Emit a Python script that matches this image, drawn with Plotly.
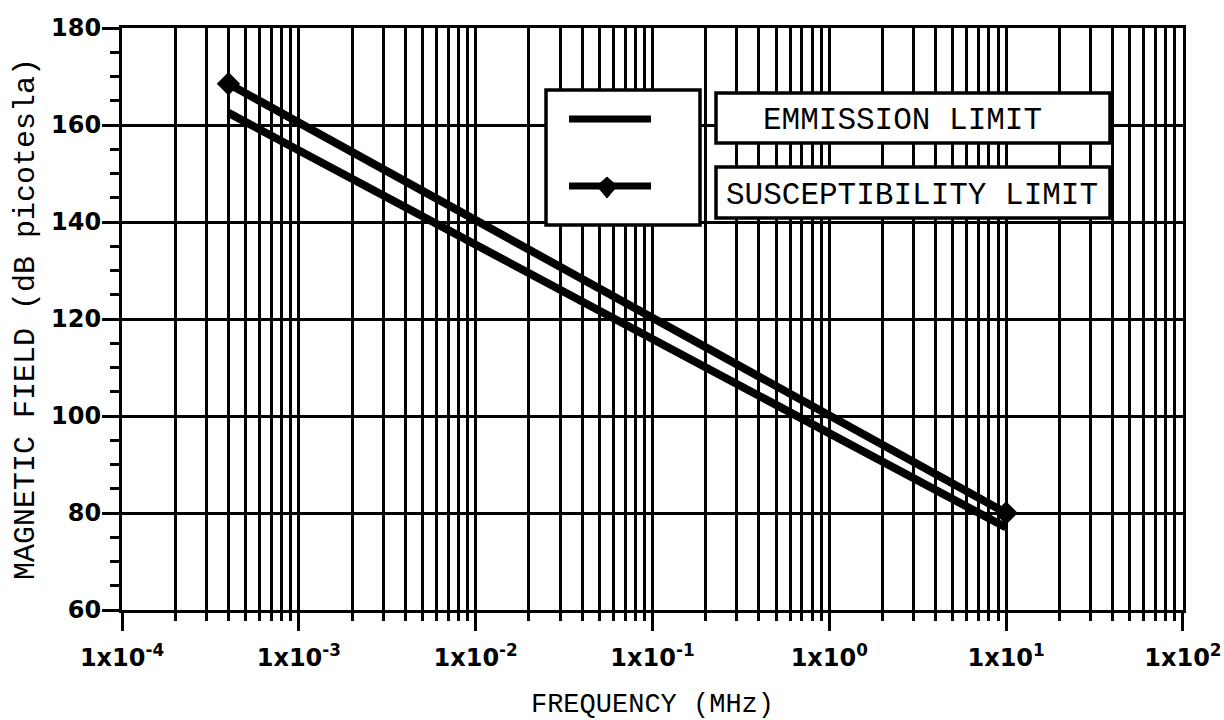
import plotly.graph_objects as go

# ---- data ----
freq_mhz = [4e-4, 1e1]
susceptibility_db = [168.5, 80.0]
emission_db = [162.5, 77.0]

x_tick_vals = [1e-4, 1e-3, 1e-2, 1e-1, 1e0, 1e1, 1e2]
x_tick_text = ["1x10<sup>-4</sup>", "1x10<sup>-3</sup>", "1x10<sup>-2</sup>",
               "1x10<sup>-1</sup>", "1x10<sup>0</sup>", "1x10<sup>1</sup>",
               "1x10<sup>2</sup>"]
x_minor_vals = [m * d for d in [1e-4, 1e-3, 1e-2, 1e-1, 1e0, 1e1] for m in range(2, 10)]
y_tick_vals = [60, 80, 100, 120, 140, 160, 180]

series_names = ["EMMISSION LIMIT", "SUSCEPTIBILITY LIMIT"]

BLACK = "black"
MONO = "Liberation Mono, Courier New, monospace"
SANS = "DejaVu Sans, Arial, sans-serif"

fig = go.Figure()
fig.add_trace(go.Scatter(
    x=freq_mhz, y=emission_db, mode="lines", name=series_names[0],
    line=dict(color=BLACK, width=8), showlegend=False))
fig.add_trace(go.Scatter(
    x=freq_mhz, y=susceptibility_db, mode="lines+markers", name=series_names[1],
    line=dict(color=BLACK, width=8),
    marker=dict(symbol="diamond", size=18, color=BLACK), showlegend=False))

L, R, T, B = 122, 41, 28, 110
W, H = 1224, 720

fig.update_layout(
    width=W, height=H,
    margin=dict(l=L, r=R, t=T, b=B, autoexpand=False),
    paper_bgcolor="white", plot_bgcolor="white",
    xaxis=dict(
        type="log", range=[-4, 2.0005],
        tickmode="array", tickvals=x_tick_vals, ticktext=x_tick_text,
        ticks="outside", ticklen=18, tickwidth=3, tickcolor=BLACK,
        showgrid=True, gridcolor=BLACK, gridwidth=3,
        minor=dict(tickmode="array", tickvals=x_minor_vals, ticks="outside",
                   ticklen=8, tickwidth=2.5, tickcolor=BLACK,
                   showgrid=True, gridcolor=BLACK, gridwidth=2.5),
        showline=True, linecolor=BLACK, linewidth=3, mirror=True,
        tickfont=dict(family=SANS, size=24, color=BLACK, weight="bold"),
        ticklabelstandoff=6,
        title=dict(text="FREQUENCY (MHz)", font=dict(family=MONO, size=27, color=BLACK),
                   standoff=24),
        zeroline=False, automargin=False,
    ),
    yaxis=dict(
        range=[60, 180],
        tickmode="array", tickvals=y_tick_vals,
        ticks="outside", ticklen=17, tickwidth=3, tickcolor=BLACK,
        showgrid=True, gridcolor=BLACK, gridwidth=3,
        minor=dict(dtick=5, ticks="outside", ticklen=9, tickwidth=2.5,
                   tickcolor=BLACK, showgrid=False),
        showline=True, linecolor=BLACK, linewidth=3, mirror=True,
        tickfont=dict(family=SANS, size=24, color=BLACK, weight="bold"),
        ticklabelstandoff=-4,
        title=dict(text="MAGNETIC FIELD (dB picotesla)",
                   font=dict(family=MONO, size=30, color=BLACK), standoff=8),
        zeroline=False, automargin=False,
    ),
)

# ---- legend drawn as boxes ----
def px(xp):
    return (xp - L) / (W - L - R)

def py(yp):
    return (H - B - yp) / (H - T - B)

box_line = dict(color=BLACK, width=3.5)
fig.add_shape(type="rect", xref="paper", yref="paper",
              x0=px(546), x1=px(700), y0=py(225), y1=py(90),
              line=box_line, fillcolor="white", layer="above")
fig.add_shape(type="rect", xref="paper", yref="paper",
              x0=px(716), x1=px(1110), y0=py(143), y1=py(93),
              line=box_line, fillcolor="white", layer="above")
fig.add_shape(type="rect", xref="paper", yref="paper",
              x0=px(716), x1=px(1110), y0=py(218), y1=py(167),
              line=box_line, fillcolor="white", layer="above")
fig.add_shape(type="line", xref="paper", yref="paper",
              x0=px(569), x1=px(651), y0=py(119), y1=py(119),
              line=dict(color=BLACK, width=7), layer="above")
fig.add_shape(type="line", xref="paper", yref="paper",
              x0=px(569), x1=px(651), y0=py(186), y1=py(186),
              line=dict(color=BLACK, width=7), layer="above")
cx, cy = 607, 186
fig.add_shape(type="path", xref="paper", yref="paper",
              path=(f"M {px(cx-10)} {py(cy)} L {px(cx)} {py(cy-9)} "
                    f"L {px(cx+10)} {py(cy)} L {px(cx)} {py(cy+12)} Z"),
              fillcolor=BLACK, line=dict(color=BLACK, width=1), layer="above")

fig.add_annotation(xref="paper", yref="paper", x=px(902), y=py(121),
                   xanchor="center", yanchor="middle",
                   text=series_names[0], showarrow=False,
                   font=dict(family=MONO, size=31, color=BLACK))
fig.add_annotation(xref="paper", yref="paper", x=px(912), y=py(196),
                   xanchor="center", yanchor="middle",
                   text=series_names[1], showarrow=False,
                   font=dict(family=MONO, size=31, color=BLACK))

fig.write_html("out.html")
